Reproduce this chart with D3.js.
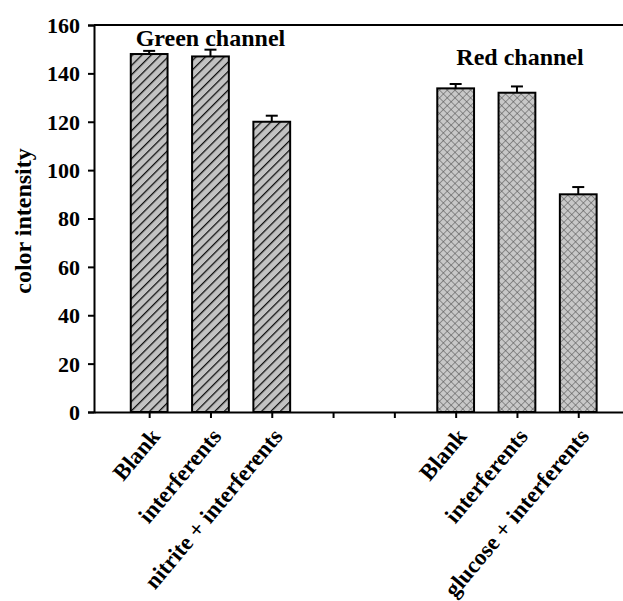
<!DOCTYPE html>
<html>
<head>
<meta charset="utf-8">
<script src="https://cdn.jsdelivr.net/npm/d3@7"></script>
<style>
  html, body { margin: 0; padding: 0; background: #fff; }
  svg { display: block; }
  text { font-family: "Liberation Serif", "Times New Roman", serif; font-weight: bold; fill: #000; }
</style>
</head>
<body>
<script>
// Category labels for the two channel groups
const greenCategories = ["Blank", "interferents", "nitrite + interferents"];
const redCategories = ["Blank", "interferents", "glucose + interferents"];
// Mean color intensity and upper error
const greenValues = [148, 147, 120];
const greenErrors = [1.3, 2.8, 2.5];
const redValues = [133.8, 132, 90];
const redErrors = [1.8, 2.6, 3];
// Slot positions along the x axis (two empty slots separate the groups)
const greenSlots = [0, 1, 2];
const redSlots = [5, 6, 7];
const emptySlots = [3, 4];
const yTicks = [0, 20, 40, 60, 80, 100, 120, 140, 160];

const W = 623, H = 601;
const svg = d3.select("body").append("svg").attr("width", W).attr("height", H);

const x = d3.scaleLinear().domain([-0.9, 7.73]).range([94, 623]);
const y = d3.scaleLinear().domain([0, 160]).range([412, 25]);
const step = x(1) - x(0);
const barW = step * 0.6;

// Fill patterns: diagonal hatch for green channel, crosshatch for red channel
const defs = svg.append("defs");
const hatch = defs.append("pattern").attr("id", "hatch")
  .attr("patternUnits", "userSpaceOnUse").attr("width", 6.6).attr("height", 6.6)
  .attr("patternTransform", "rotate(45)");
hatch.append("rect").attr("width", 6.6).attr("height", 6.6).attr("fill", "#c2c2c2");
hatch.append("line").attr("x1", 0).attr("y1", 0).attr("x2", 0).attr("y2", 6.6)
  .attr("stroke", "#111").attr("stroke-width", 2.6);

const cross = defs.append("pattern").attr("id", "cross")
  .attr("patternUnits", "userSpaceOnUse").attr("width", 5.5).attr("height", 5.5)
  .attr("patternTransform", "rotate(45)");
cross.append("rect").attr("width", 5.5).attr("height", 5.5).attr("fill", "#c8c8c8");
cross.append("line").attr("x1", 0).attr("y1", 0).attr("x2", 0).attr("y2", 5.5)
  .attr("stroke", "#555").attr("stroke-width", 1.1);
cross.append("line").attr("x1", 0).attr("y1", 0).attr("x2", 5.5).attr("y2", 0)
  .attr("stroke", "#555").attr("stroke-width", 1.1);

function drawGroup(slots, values, errors, fill) {
  const g = svg.append("g");
  slots.forEach((s, i) => {
    const cx = x(s);
    const top = y(values[i] + errors[i]);
    g.append("line").attr("x1", cx).attr("x2", cx).attr("y1", y(values[i])).attr("y2", top)
      .attr("stroke", "#000").attr("stroke-width", 2);
    g.append("line").attr("x1", cx - 6).attr("x2", cx + 6).attr("y1", top).attr("y2", top)
      .attr("stroke", "#000").attr("stroke-width", 2);
    g.append("rect").attr("x", cx - barW / 2).attr("y", y(values[i]))
      .attr("width", barW).attr("height", y(0) - y(values[i]))
      .attr("fill", fill).attr("stroke", "#000").attr("stroke-width", 2);
  });
}
drawGroup(greenSlots, greenValues, greenErrors, "url(#hatch)");
drawGroup(redSlots, redValues, redErrors, "url(#cross)");

// Frame: top line, left axis, bottom axis
svg.append("line").attr("x1", x(-0.9)).attr("x2", W).attr("y1", y(160)).attr("y2", y(160))
  .attr("stroke", "#000").attr("stroke-width", 2);

const yAxis = d3.axisLeft(y).tickValues(yTicks).tickSize(6).tickPadding(8);
const gy = svg.append("g").attr("transform", `translate(${x(-0.9)},0)`).call(yAxis);
gy.select(".domain").attr("stroke-width", 2);
gy.selectAll(".tick line").attr("stroke-width", 2);
gy.selectAll(".tick text").style("font-size", "22px").attr("dy", "0.34em");

const allSlots = greenSlots.concat(emptySlots, redSlots);
const xAxis = d3.axisBottom(x).tickValues(allSlots).tickSize(6).tickFormat(() => "").tickSizeOuter(0);
const gx = svg.append("g").attr("transform", `translate(0,${y(0)})`).call(xAxis);
gx.select(".domain").attr("stroke-width", 2);
gx.selectAll(".tick line").attr("stroke-width", 2);

// Rotated category labels
function labels(slots, cats) {
  slots.forEach((s, i) => {
    svg.append("text")
      .attr("transform", `translate(${x(s) + 12},${y(0) + 25}) rotate(-50)`)
      .attr("text-anchor", "end")
      .style("font-size", "23px")
      .text(cats[i]);
  });
}
labels(greenSlots, greenCategories);
labels(redSlots, redCategories);

// Group titles
svg.append("text").attr("x", x(1)).attr("y", 46).attr("text-anchor", "middle")
  .style("font-size", "24px").text("Green channel");
svg.append("text").attr("x", x(6.05)).attr("y", 65).attr("text-anchor", "middle")
  .style("font-size", "24px").text("Red channel");

// Y axis title
svg.append("text").attr("transform", `translate(31,221) rotate(-90)`)
  .attr("text-anchor", "middle").style("font-size", "24px").text("color intensity");
</script>
</body>
</html>
